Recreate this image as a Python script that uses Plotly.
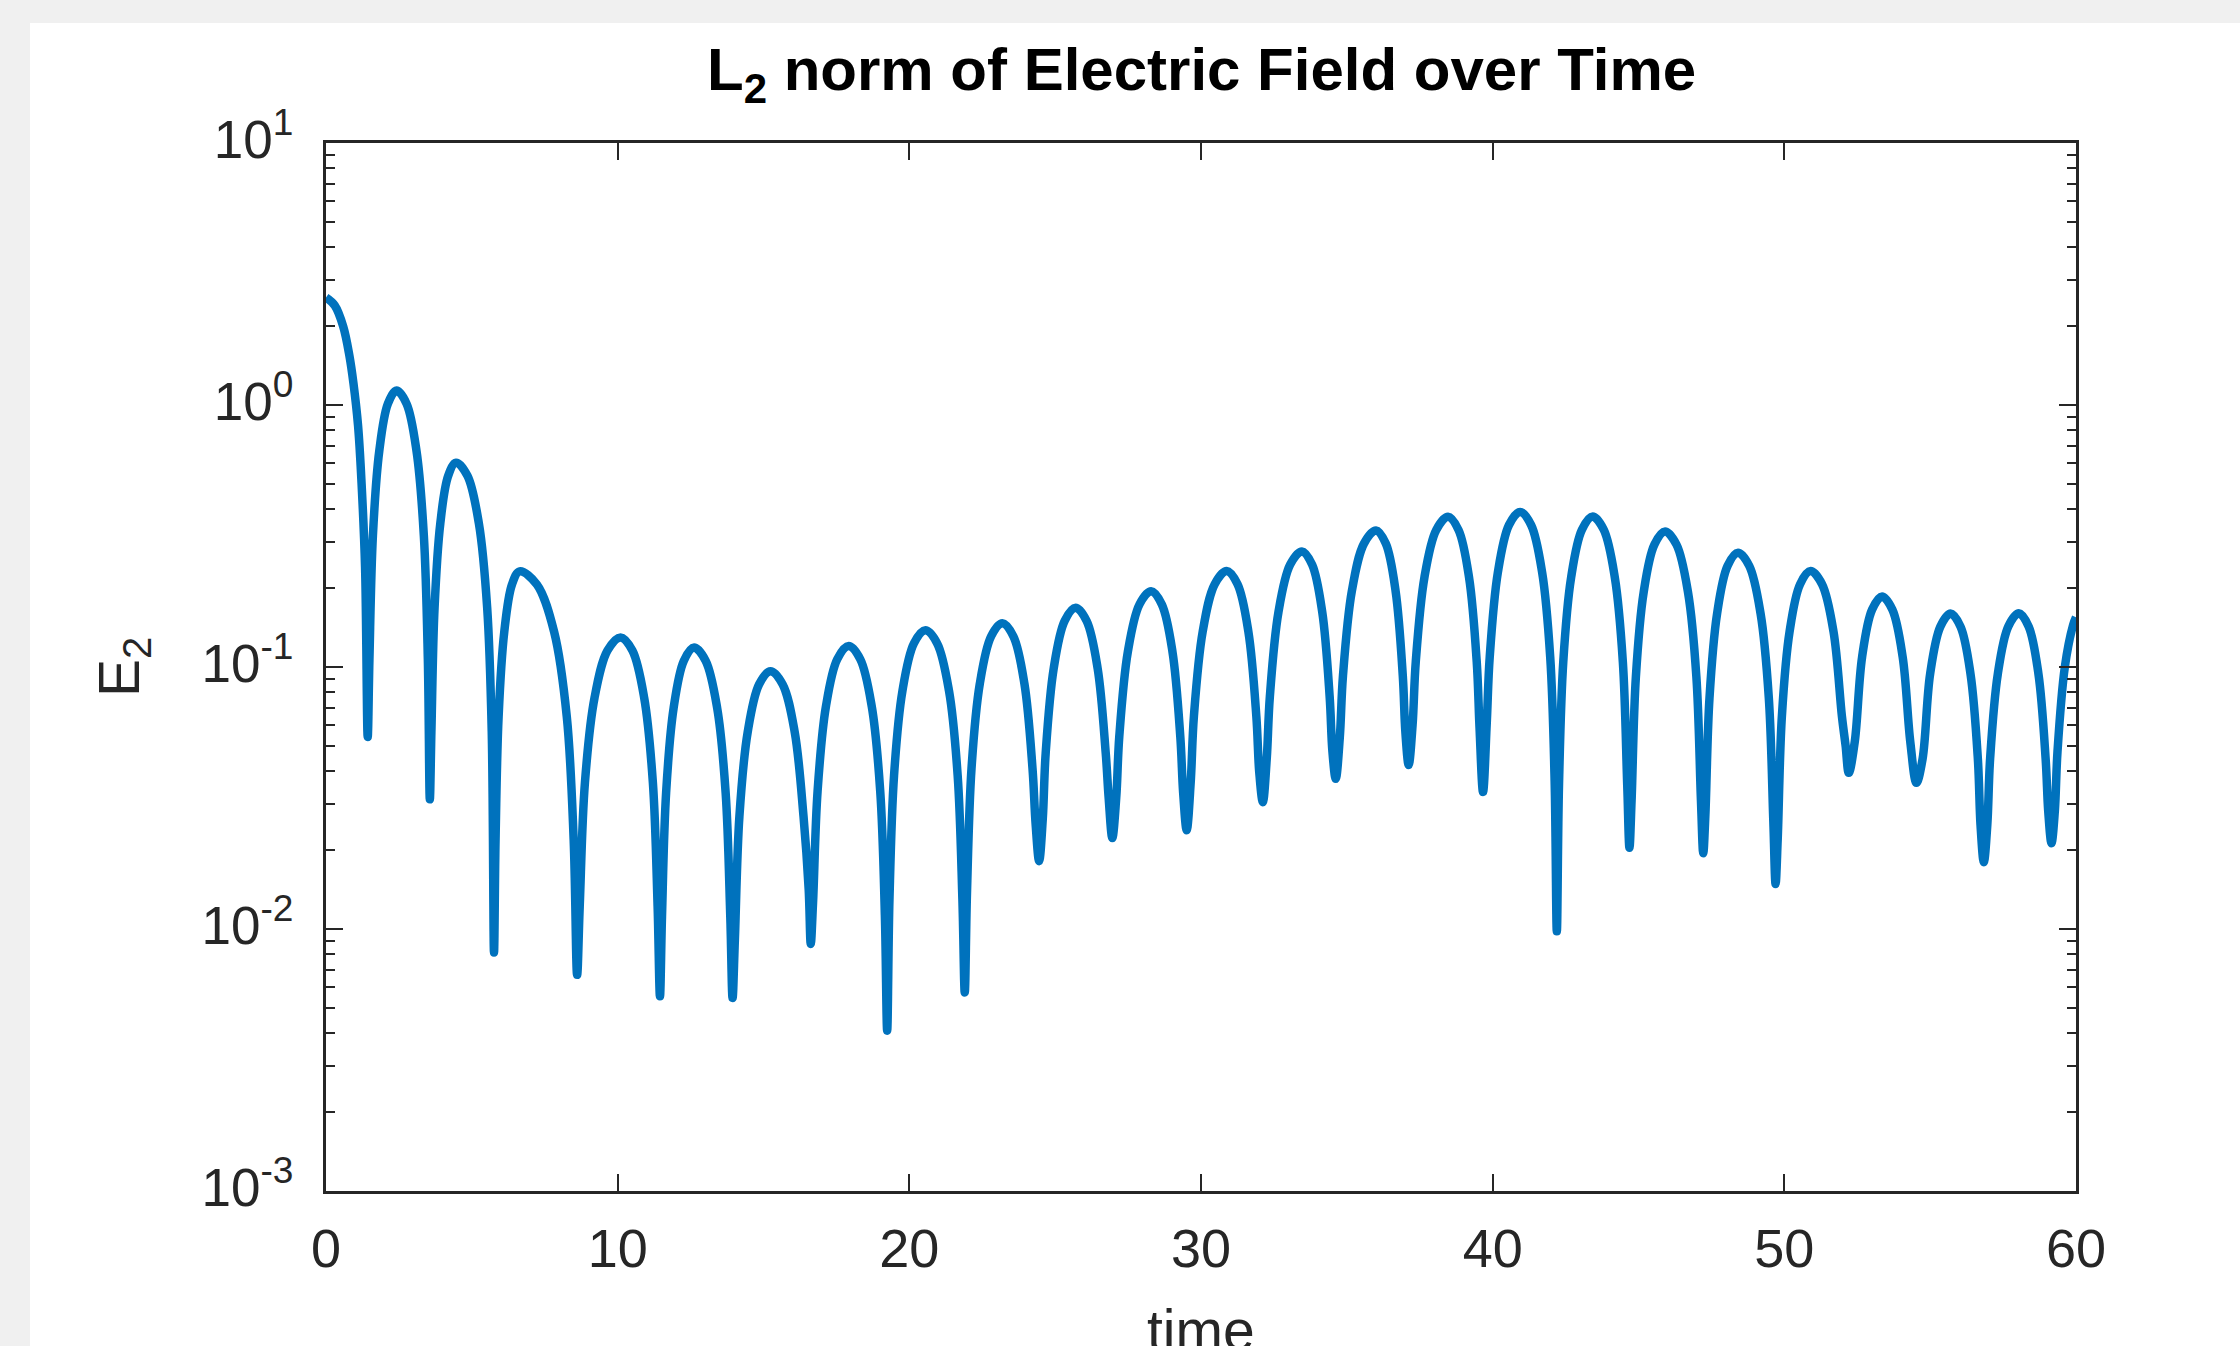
import plotly.graph_objects as go

# ---- data (time, log10 of E2) ----
time = [
    0.00, 0.30, 0.59, 0.80, 0.94, 1.10, 1.22, 1.34, 1.43,
    1.489, 1.608, 1.826, 2.123, 2.42, 2.762, 3.104, 3.355, 3.492, 3.56,
    3.614, 3.722, 3.92, 4.19, 4.46, 4.85, 5.24, 5.526, 5.682, 5.76,
    5.813, 5.918, 6.112, 6.376, 6.64, 7.231, 7.822, 8.255, 8.492, 8.61,
    8.699, 8.878, 9.206, 9.653, 10.10, 10.505, 10.91, 11.207, 11.369, 11.45,
    11.52, 11.661, 11.918, 12.269, 12.62, 13.016, 13.412, 13.702, 13.861, 13.94,
    14.018, 14.174, 14.46, 14.85, 15.24, 15.654, 16.068, 16.372, 16.55, 16.62,
    16.698, 16.854, 17.14, 17.53, 17.92, 18.316, 18.712, 19.002, 19.161, 19.24,
    19.319, 19.476, 19.764, 20.157, 20.55, 20.955, 21.36, 21.657, 21.819, 21.90,
    21.977, 22.132, 22.416, 22.803, 23.19, 23.568, 23.946, 24.223, 24.33, 24.45,
    24.575, 24.675, 24.95, 25.325, 25.70, 26.078, 26.456, 26.733, 26.834, 26.96,
    27.093, 27.199, 27.492, 27.891, 28.29, 28.656, 29.022, 29.29, 29.388, 29.51,
    29.647, 29.757, 30.058, 30.469, 30.88, 31.252, 31.624, 31.897, 31.996, 32.12,
    32.254, 32.361, 32.656, 33.058, 33.46, 33.808, 34.156, 34.411, 34.504, 34.62,
    34.758, 34.868, 35.172, 35.586, 36.00, 36.336, 36.672, 36.918, 37.008, 37.12,
    37.255, 37.363, 37.66, 38.065, 38.47, 38.83, 39.19, 39.454, 39.55, 39.67,
    39.797, 39.899, 40.178, 40.559, 40.94, 41.318, 41.696, 41.973, 42.124, 42.20,
    42.274, 42.421, 42.692, 43.061, 43.43, 43.808, 44.186, 44.463, 44.614, 44.69,
    44.763, 44.91, 45.178, 45.544, 45.91, 46.303, 46.696, 46.984, 47.141, 47.22,
    47.291, 47.434, 47.696, 48.053, 48.41, 48.797, 49.184, 49.468, 49.623, 49.70,
    49.772, 49.916, 50.18, 50.54, 50.90, 51.293, 51.686, 51.974, 52.10, 52.21,
    52.415, 52.666, 53.008, 53.35, 53.704, 54.058, 54.318, 54.53,
    54.741, 54.998, 55.349, 55.70, 56.042, 56.384, 56.635, 56.726, 56.84,
    56.96, 57.056, 57.32, 57.68, 58.04, 58.376, 58.712, 58.958, 59.048, 59.16,
    59.274, 59.365, 59.616, 59.90, 60.00,
]

log10_E2 = [
    0.410, 0.380, 0.300, 0.190, 0.084, -0.080, -0.300, -0.620, -1.267,
    -0.971, -0.499, -0.176, 0.005, 0.055, 0.005, -0.176, -0.499, -0.971, -1.505,
    -1.246, -0.774, -0.451, -0.270, -0.220, -0.270, -0.451, -0.774, -1.246, -2.090,
    -1.661, -1.189, -0.866, -0.685, -0.635, -0.685, -0.866, -1.189, -1.661, -2.175,
    -1.913, -1.441, -1.118, -0.937, -0.887, -0.937, -1.118, -1.441, -1.913, -2.257,
    -1.952, -1.480, -1.157, -0.976, -0.926, -0.976, -1.157, -1.480, -1.952, -2.263,
    -2.042, -1.570, -1.247, -1.066, -1.016, -1.066, -1.247, -1.570, -1.850, -2.057,
    -1.900, -1.474, -1.151, -0.970, -0.920, -0.970, -1.151, -1.474, -1.946, -2.388,
    -1.886, -1.414, -1.091, -0.910, -0.860, -0.910, -1.091, -1.414, -1.886, -2.242,
    -1.859, -1.387, -1.064, -0.883, -0.833, -0.883, -1.064, -1.387, -1.600, -1.741,
    -1.580, -1.328, -1.005, -0.824, -0.774, -0.824, -1.005, -1.328, -1.500, -1.653,
    -1.500, -1.265, -0.942, -0.761, -0.711, -0.761, -0.942, -1.265, -1.480, -1.623,
    -1.440, -1.188, -0.865, -0.684, -0.634, -0.684, -0.865, -1.188, -1.400, -1.516,
    -1.350, -1.113, -0.790, -0.609, -0.559, -0.609, -0.790, -1.113, -1.320, -1.427,
    -1.270, -1.033, -0.710, -0.529, -0.479, -0.529, -0.710, -1.033, -1.250, -1.374,
    -1.220, -0.981, -0.658, -0.477, -0.427, -0.477, -0.658, -0.981, -1.233, -1.477,
    -1.214, -0.962, -0.639, -0.458, -0.408, -0.458, -0.639, -0.962, -1.434, -2.009,
    -1.452, -0.980, -0.657, -0.476, -0.426, -0.476, -0.657, -0.980, -1.452, -1.690,
    -1.509, -1.037, -0.714, -0.533, -0.483, -0.533, -0.714, -1.037, -1.509, -1.711,
    -1.570, -1.118, -0.795, -0.614, -0.564, -0.614, -0.795, -1.118, -1.590, -1.828,
    -1.660, -1.188, -0.865, -0.684, -0.634, -0.684, -0.865, -1.188, -1.300, -1.404,
    -1.285, -0.962, -0.781, -0.731, -0.781, -0.962, -1.285, -1.442,
    -1.350, -1.027, -0.846, -0.796, -0.846, -1.027, -1.350, -1.602, -1.745,
    -1.601, -1.349, -1.026, -0.845, -0.795, -0.845, -1.026, -1.349, -1.550, -1.673,
    -1.550, -1.324, -1.001, -0.840, -0.810,
]

E2 = [10 ** v for v in log10_E2]

x_tick_vals = [0, 10, 20, 30, 40, 50, 60]
y_tick_vals = [1e-3, 1e-2, 1e-1, 1e0, 1e1]
y_tick_text = ["10<sup>-3</sup>", "10<sup>-2</sup>", "10<sup>-1</sup>",
               "10<sup>0</sup>", "10<sup>1</sup>"]

title_text = "<b>L<sub>2</sub> norm of Electric Field over Time</b>"
x_label = "time"
y_label = "E<sub>2</sub>"

# ---- figure ----
W, H = 2240, 1346
L, R, T, B = 326, 2076, 143, 1191
AX = "#262626"
FONT = "Liberation Sans, Arial, Helvetica, sans-serif"

minor_vals = []
for dec in [1e-3, 1e-2, 1e-1, 1e0]:
    for m in range(2, 10):
        minor_vals.append(m * dec)

fig = go.Figure()
fig.add_trace(go.Scatter(
    x=time, y=E2, mode="lines",
    line=dict(color="#0072BD", width=8.5, shape="spline", smoothing=1.0),
    showlegend=False, hoverinfo="skip",
))

pw, ph = R - L, B - T


def px_x(px):
    return (px - L) / pw


def px_y(py):
    return (B - py) / ph


fig.update_layout(
    width=W, height=H,
    margin=dict(l=L, r=W - R, t=T, b=H - B, pad=0),
    paper_bgcolor="#f0f0f0",
    plot_bgcolor="white",
    font=dict(family=FONT, color=AX),
    showlegend=False,
    shapes=[dict(type="rect", xref="paper", yref="paper",
                 x0=px_x(30), x1=px_x(W + 50), y0=px_y(H + 50), y1=px_y(23),
                 fillcolor="white", line=dict(width=0), layer="below")],
    annotations=[
        dict(text=title_text, xref="paper", yref="paper", x=0.5, y=px_y(74),
             xanchor="center", yanchor="middle", showarrow=False,
             font=dict(size=60, family=FONT, color="black")),
        dict(text=x_label, xref="paper", yref="paper", x=0.5, y=px_y(1330),
             xanchor="center", yanchor="middle", showarrow=False,
             font=dict(size=57, family=FONT, color=AX)),
        dict(text=y_label, xref="paper", yref="paper", x=px_x(123), y=0.5,
             xanchor="center", yanchor="middle", showarrow=False, textangle=-90,
             font=dict(size=57, family=FONT, color=AX)),
    ],
)

fig.update_xaxes(
    range=[0, 60], tickmode="array", tickvals=x_tick_vals,
    ticks="inside", ticklen=17, tickwidth=2, tickcolor=AX,
    showline=True, linecolor=AX, linewidth=3, mirror="allticks",
    showgrid=False, zeroline=False,
    tickfont=dict(size=54, family=FONT, color=AX),
    ticklabelstandoff=8,
)
fig.update_yaxes(
    type="log", range=[-3, 1], tickmode="array",
    tickvals=y_tick_vals, ticktext=y_tick_text,
    ticks="inside", ticklen=17, tickwidth=2, tickcolor=AX,
    showline=True, linecolor=AX, linewidth=3, mirror="allticks",
    showgrid=False, zeroline=False,
    tickfont=dict(size=53, family=FONT, color=AX),
    ticklabelstandoff=19,
    ticklabelshift=-4,
    minor=dict(tickmode="array", tickvals=minor_vals, ticks="inside",
               ticklen=9, tickwidth=2, tickcolor=AX, showgrid=False),
)

fig.write_html(
    "out.html",
    config={"displayModeBar": False},
    post_script="document.body.style.margin='0';"
                "document.body.style.padding='0';"
                "document.body.style.background='#f0f0f0';"
                "document.body.style.overflow='hidden';",
)
